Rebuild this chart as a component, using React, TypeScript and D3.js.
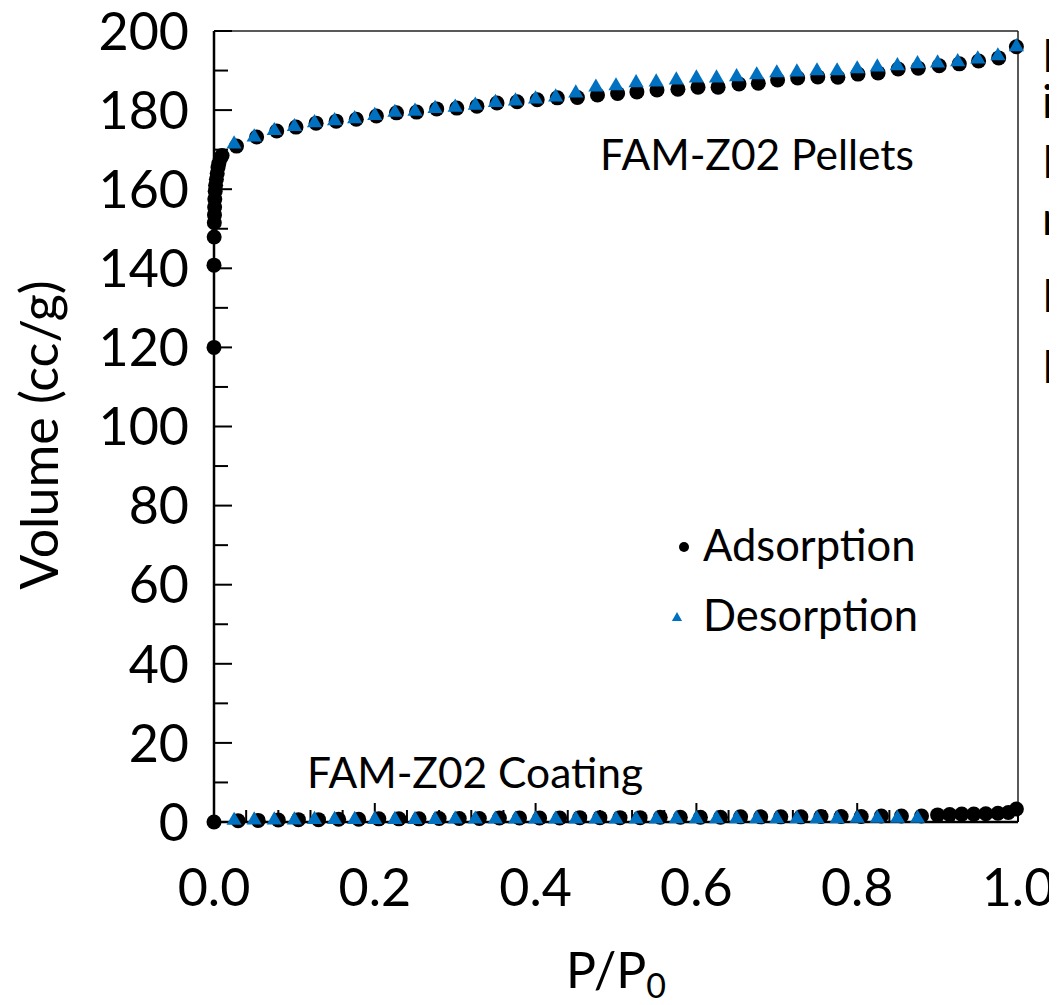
import React from "react";
import * as d3 from "d3";

// ---- FAM-Z02 Pellets: N2 isotherm ----
// low-pressure uptake (adsorption only)
const pelletsAdsLowP = [0.0, 0.0, 0.0002, 0.0004, 0.0006, 0.0008, 0.001, 0.0015, 0.002, 0.003, 0.004, 0.005, 0.006, 0.008, 0.01];
const pelletsAdsLowV = [120.0, 140.8, 147.9, 151.5, 153.5, 155.5, 157.5, 159.5, 161.0, 162.5, 164.0, 165.5, 166.5, 167.8, 168.5];

const pelletsAdsP = [
  0.028, 0.053, 0.078, 0.102, 0.127, 0.152, 0.177, 0.202, 0.227, 0.252,
  0.277, 0.302, 0.327, 0.352, 0.377, 0.402, 0.427, 0.452, 0.477, 0.502,
  0.526, 0.551, 0.577, 0.602, 0.627, 0.653, 0.677, 0.701, 0.726, 0.751,
  0.776, 0.801, 0.826, 0.851, 0.876, 0.902, 0.927, 0.951, 0.976, 0.998,
];
const pelletsAdsV = [
  170.9, 173.2, 174.7, 175.7, 176.7, 177.2, 177.7, 178.5, 179.3, 179.5,
  180.3, 180.5, 181.0, 181.8, 182.1, 182.6, 183.1, 183.2, 183.8, 184.2,
  184.6, 185.1, 185.3, 185.8, 185.8, 186.6, 186.8, 187.6, 188.1, 188.4,
  188.3, 189.1, 189.4, 190.4, 190.6, 191.2, 191.7, 192.4, 193.2, 196.0,
];

const pelletsDesP = [
  0.025, 0.05, 0.075, 0.1, 0.125, 0.15, 0.175, 0.2, 0.225, 0.25,
  0.275, 0.3, 0.325, 0.35, 0.375, 0.4, 0.425, 0.45, 0.475, 0.5,
  0.525, 0.55, 0.575, 0.6, 0.625, 0.65, 0.675, 0.7, 0.725, 0.75,
  0.775, 0.8, 0.825, 0.85, 0.875, 0.9, 0.925, 0.95, 0.975, 0.998,
];
const pelletsDesV = [
  171.4, 173.2, 174.8, 175.8, 176.8, 177.3, 177.8, 178.6, 179.4, 179.7,
  180.4, 180.7, 181.2, 181.9, 182.3, 182.8, 183.3, 184.3, 185.8, 186.1,
  186.9, 187.1, 187.6, 188.1, 188.1, 188.4, 188.9, 189.4, 189.6, 189.9,
  189.9, 190.4, 190.9, 191.2, 191.7, 191.9, 192.2, 192.9, 193.7, 196.0,
];

// ---- FAM-Z02 Coating: N2 isotherm ----
const coatingAdsP = [
  0.0, 0.03, 0.055, 0.08, 0.105, 0.13, 0.155, 0.18, 0.205, 0.23, 0.255,
  0.28, 0.305, 0.33, 0.355, 0.38, 0.405, 0.43, 0.455, 0.48, 0.505,
  0.53, 0.555, 0.58, 0.605, 0.63, 0.655, 0.68, 0.705, 0.73, 0.755,
  0.78, 0.805, 0.83, 0.855, 0.88,
  0.9, 0.915, 0.93, 0.945, 0.96, 0.975, 0.988, 0.998,
];
const coatingAdsV = [
  0.0, 0.3, 0.4, 0.5, 0.6, 0.6, 0.7, 0.7, 0.8, 0.8, 0.8,
  0.9, 0.9, 0.9, 1.0, 1.0, 1.0, 1.0, 1.1, 1.1, 1.1,
  1.1, 1.2, 1.2, 1.2, 1.2, 1.3, 1.3, 1.3, 1.3, 1.4,
  1.4, 1.4, 1.5, 1.5, 1.5,
  1.8, 1.9, 2.0, 2.0, 2.1, 2.2, 2.4, 3.3,
];

const coatingDesP = [
  0.025, 0.05, 0.075, 0.1, 0.125, 0.15, 0.175, 0.2, 0.225, 0.25,
  0.275, 0.3, 0.325, 0.35, 0.375, 0.4, 0.425, 0.45, 0.475, 0.5,
  0.525, 0.55, 0.575, 0.6, 0.625, 0.65, 0.675, 0.7, 0.725, 0.75,
  0.775, 0.8, 0.825, 0.85, 0.875,
];
const coatingDesV = [
  0.4, 0.5, 0.5, 0.5, 0.6, 0.6, 0.6, 0.6, 0.6, 0.6,
  0.6, 0.7, 0.7, 0.7, 0.7, 0.7, 0.7, 0.7, 0.7, 0.7,
  0.7, 0.7, 0.8, 0.8, 0.8, 0.8, 0.8, 0.8, 0.8, 0.8,
  0.8, 0.9, 0.9, 0.9, 0.9,
];

const xTickLabels = ["0.0", "0.2", "0.4", "0.6", "0.8", "1.0"];
const yTickLabels = ["0", "20", "40", "60", "80", "100", "120", "140", "160", "180", "200"];
const sideNotes = ["I", "i", "I", "n", "I", "I"];
const sideNoteBaselines = [64, 110, 170, 227, 304, 375];

const W = 1049;
const H = 997;
const FONT = "Lato, 'Open Sans', sans-serif";
const BLUE = "#0070c0";

const left = 206;
const right = 1010;
const top = 23;
const bottom = 814;

export default function App() {
  const x = d3.scaleLinear().domain([0, 1]).range([left, right]);
  const y = d3.scaleLinear().domain([0, 200]).range([bottom, top]);

  const tri = d3.symbol(d3.symbolTriangle, 100)() as string;
  const triSmall = d3.symbol(d3.symbolTriangle, 45)() as string;

  const toPts = (ps: number[], vs: number[]) => ps.map((p, i) => ({ p, v: vs[i] }));
  const adsPts = [
    ...toPts(coatingAdsP, coatingAdsV),
    ...toPts(pelletsAdsLowP, pelletsAdsLowV),
    ...toPts(pelletsAdsP, pelletsAdsV),
  ];
  const desPts = [...toPts(coatingDesP, coatingDesV), ...toPts(pelletsDesP, pelletsDesV)];

  const xMinor = d3.range(0, 1.0001, 0.04);
  const xMajor = xTickLabels.map((t) => +t);
  const yMinor = d3.range(0, 201, 10);
  const yMajor = yTickLabels.map((t) => +t);

  return (
    <svg width={W} height={H} style={{ display: "block", fontFamily: FONT }}>
      <rect x={0} y={0} width={W} height={H} fill="#fff" />

      {/* plot frame */}
      <line x1={left} x2={right} y1={top} y2={top} stroke="#222" strokeWidth={1.5} />
      <line x1={right} x2={right} y1={top} y2={bottom} stroke="#222" strokeWidth={1.5} />

      {/* y ticks (inward) */}
      {yMinor.map((v) => (
        <line key={"ym" + v} x1={left} x2={left + (v % 20 === 0 ? 18 : 14)} y1={y(v)} y2={y(v)} stroke="#000" strokeWidth={2} />
      ))}
      {/* x ticks (inward) */}
      {xMinor.map((p) => {
        const major = xMajor.some((m) => Math.abs(m - p) < 1e-6);
        return (
          <line key={"xm" + p} x1={x(p)} x2={x(p)} y1={bottom} y2={bottom - (major ? 19 : 12)} stroke="#000" strokeWidth={2} />
        );
      })}

      {/* axis lines */}
      <line x1={left} x2={left} y1={top} y2={bottom} stroke="#000" strokeWidth={2.5} />
      <line x1={left} x2={right} y1={bottom} y2={bottom} stroke="#000" strokeWidth={2.5} />

      {/* tick labels */}
      {yMajor.map((v, i) => (
        <text key={"yl" + v} x={181} y={y(v)} dy="0.36em" textAnchor="end" fontSize={52} fill="#000">
          {yTickLabels[i]}
        </text>
      ))}
      {xMajor.map((p, i) => (
        <text key={"xl" + p} x={x(p)} y={898} textAnchor="middle" fontSize={52} fill="#000">
          {xTickLabels[i]}
        </text>
      ))}

      {/* axis titles */}
      <text transform={`translate(50,427) rotate(-90)`} textAnchor="middle" fontSize={52} fill="#000">
        Volume (cc/g)
      </text>
      <text x={(left + right) / 2} y={980} textAnchor="middle" fontSize={50} fill="#000">
        P/P<tspan dy={10} fontSize={34}>0</tspan>
      </text>

      {/* adsorption points */}
      {adsPts.map((d, i) => (
        <circle key={"a" + i} cx={x(d.p)} cy={y(d.v)} r={7.5} fill="#000" />
      ))}
      {/* desorption points */}
      {desPts.map((d, i) => (
        <path key={"d" + i} d={tri} transform={`translate(${x(d.p)},${y(d.v)})`} fill={BLUE} />
      ))}

      {/* series annotations */}
      <text x={592} y={162} fontSize={42.5} fill="#000">FAM-Z02 Pellets</text>
      <text x={299} y={780} fontSize={42.5} fill="#000">FAM-Z02 Coating</text>

      {/* legend */}
      <circle cx={676} cy={539} r={5} fill="#000" />
      <text x={695} y={553} fontSize={43.5} fill="#000">Adsorption</text>
      <path d={triSmall} transform="translate(669,610)" fill={BLUE} />
      <text x={695} y={623} fontSize={43.5} fill="#000">Desorption</text>

      {/* side notes running past the right edge */}
      {sideNotes.map((t, i) => (
        <text key={"n" + i} x={1034} y={sideNoteBaselines[i]} fontSize={46} fill="#000">
          {t}
        </text>
      ))}
    </svg>
  );
}
